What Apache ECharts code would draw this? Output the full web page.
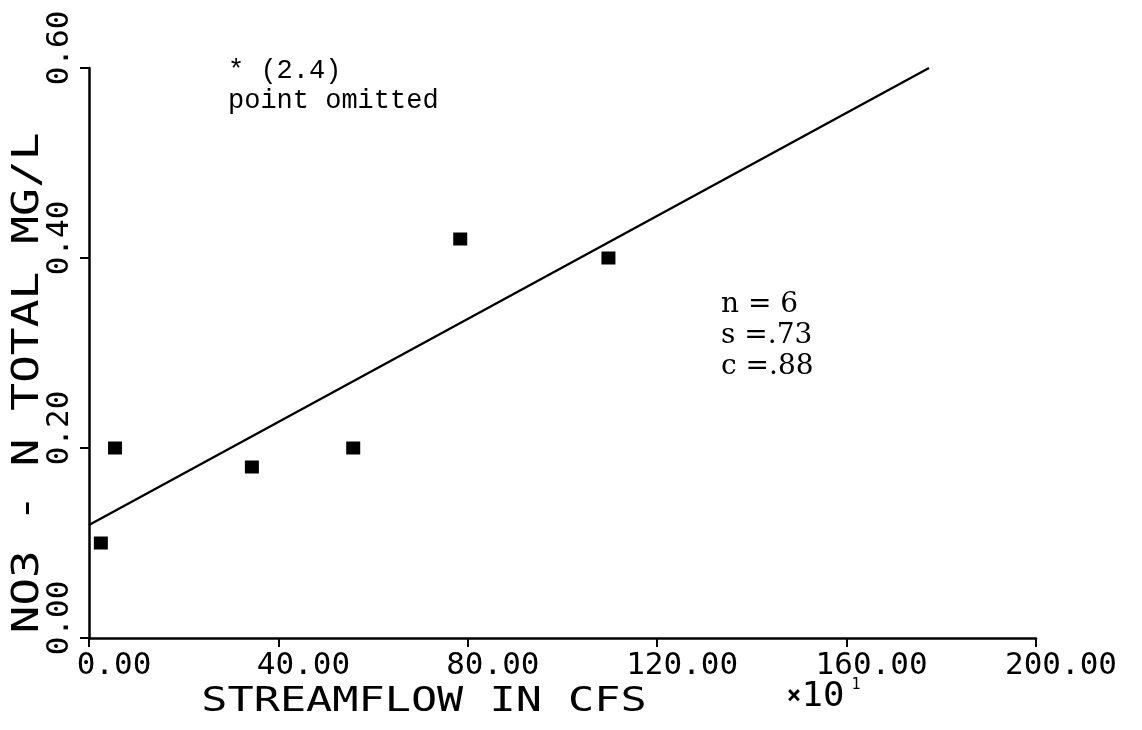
<!DOCTYPE html>
<html>
<head>
<meta charset="utf-8">
<script src="https://cdn.jsdelivr.net/npm/echarts@6/dist/echarts.min.js"></script>
<style>html,body{margin:0;padding:0;background:#fff;}#chart{width:1142px;height:730px;}</style>
</head>
<body>
<div id="chart"></div>
<script>
// Data
const streamflow = [2.5, 5.5, 34.4, 55.8, 78.4, 109.7];          // x10 CFS
const no3Total   = [0.10, 0.20, 0.18, 0.20, 0.42, 0.40];         // MG/L
const fitX = [0, 177.4];
const fitY = [0.119, 0.60];
const xTicks = [0, 40, 80, 120, 160, 200];
const yTicks = [0, 0.20, 0.40, 0.60];
const xName = 'STREAMFLOW IN CFS';
const yName = 'NO3 - N TOTAL MG/L';
const noteTop = ['* (2.4)', 'point omitted'];
const stats = ['n = 6', 's =.73', 'c =.88'];

const mono = '"DejaVu Sans Mono", monospace';
const chart = echarts.init(document.getElementById('chart'));
chart.setOption({
  backgroundColor: '#ffffff',
  animation: false,
  grid: { left: 89, right: 106, top: 68, bottom: 92 },
  xAxis: {
    type: 'value', min: xTicks[0], max: xTicks[xTicks.length - 1], interval: 40,
    axisLine: { show: true, lineStyle: { color: '#000', width: 2.5 } },
    axisTick: { show: true, length: 9, lineStyle: { color: '#000', width: 2 } },
    splitLine: { show: false },
    axisLabel: {
      color: '#000', fontFamily: mono, fontSize: 31, margin: 12,
      align: 'center', padding: [0, 0, 0, 50],
      formatter: v => v.toFixed(2)
    }
  },
  yAxis: {
    type: 'value', min: yTicks[0], max: yTicks[yTicks.length - 1], interval: 0.2,
    axisLine: { show: true, lineStyle: { color: '#000', width: 2.5 } },
    axisTick: { show: true, length: 9, lineStyle: { color: '#000', width: 2 } },
    splitLine: { show: false },
    axisLabel: {
      color: '#000', fontFamily: mono, fontSize: 31, margin: 14,
      rotate: 90, align: 'center', verticalAlign: 'bottom', padding: [0, 0, 0, 40],
      formatter: v => v.toFixed(2)
    }
  },
  graphic: [
    { type: 'text', x: 424, y: 702, scaleX: 1.28,
      style: { text: xName, font: '34px ' + mono, fill: '#000', textAlign: 'center', textVerticalAlign: 'middle' } },
    { type: 'text', x: 794, y: 697,
      style: { text: '\u00d7', font: 'bold 24px ' + mono, fill: '#000', textAlign: 'center', textVerticalAlign: 'middle' } },
    { type: 'text', x: 823, y: 697, scaleX: 1.08,
      style: { text: '10', font: '33px ' + mono, fill: '#000', textAlign: 'center', textVerticalAlign: 'middle' } },
    { type: 'text', x: 856, y: 685,
      style: { text: '1', font: '15px ' + mono, fill: '#000', textAlign: 'center', textVerticalAlign: 'middle' } },
    { type: 'text', x: 28, y: 383, rotation: Math.PI / 2, scaleX: 1.25,
      style: { text: yName, font: '37px ' + mono, fill: '#000', textAlign: 'center', textVerticalAlign: 'middle' } },
    { type: 'text', x: 228, y: 56,
      style: { text: noteTop.join('\n'), font: '27px "Liberation Mono", monospace', fill: '#000', lineHeight: 30 } },
    { type: 'text', x: 721, y: 289,
      style: { text: stats.join('\n'), font: '28px "DejaVu Serif", serif', fill: '#000', lineHeight: 31 } }
  ],
  series: [
    {
      type: 'line', data: fitX.map((x, i) => [x, fitY[i]]),
      showSymbol: false, symbol: 'none',
      lineStyle: { color: '#000', width: 2.4 }
    },
    {
      type: 'scatter', data: streamflow.map((x, i) => [x, no3Total[i]]),
      symbol: 'rect', symbolSize: [14, 13],
      itemStyle: { color: '#000', opacity: 1 }
    }
  ]
});
</script>
</body>
</html>
